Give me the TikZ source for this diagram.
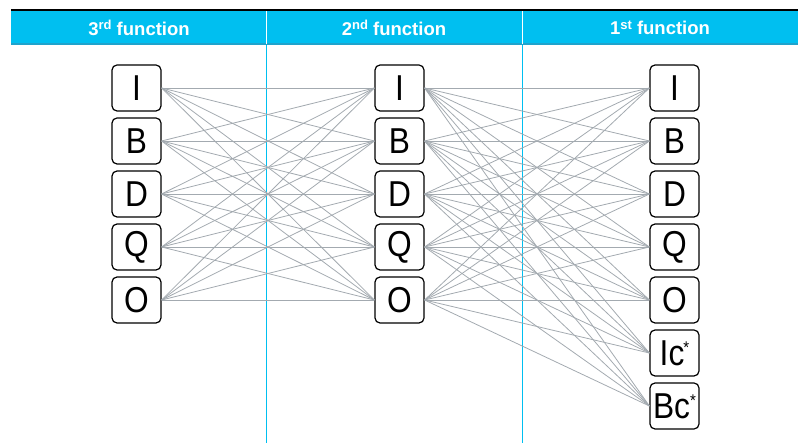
\documentclass[tikz,border=0pt]{standalone}
\usepackage{fontspec}
\setmainfont{Liberation Sans}
\usepackage{graphicx}
\definecolor{hdrblue}{HTML}{00BFF0}
\definecolor{hdrline}{HTML}{1FA3CC}
\definecolor{linkgray}{HTML}{A3AAB0}
\newcommand{\hsup}[1]{\raisebox{5.5pt}{\fontsize{13}{13}\selectfont #1}}
\newcommand{\nodetxt}[1]{\scalebox{0.88}[1]{#1}}
\newcommand{\astk}{\raisebox{12pt}{\fontsize{17}{17}\selectfont *}}
\begin{document}
\begin{tikzpicture}[x=1pt,y=-1pt,
  fbox/.style={draw=black,line width=1.2pt,rounded corners=5pt,fill=white,
    minimum width=49pt,minimum height=46pt,inner sep=0pt,
    font=\fontsize{36}{36}\selectfont},
  link/.style={draw=linkgray,line width=0.8pt},
  hdr/.style={text=white,font=\fontsize{18.5}{19}\selectfont\bfseries},
  sep/.style={draw=hdrblue,line width=1.2pt}]
\useasboundingbox (0,0) rectangle (798,443);
% header
\fill[black] (11,9) rectangle (798,11.5);
\fill[hdrblue] (11,11.5) rectangle (798,44);
\fill[hdrline] (11,43.5) rectangle (798,45);
\draw[white,line width=1.3pt] (266.5,11.5) -- (266.5,44);
\draw[white,line width=1.3pt] (522.5,11.5) -- (522.5,44);
\draw[sep] (266.5,45) -- (266.5,443);
\draw[sep] (522.5,45) -- (522.5,443);
\node[hdr] (h3) at (139,28) {3\hsup{rd} function};
\node[hdr] (h2) at (394,28) {2\hsup{nd} function};
\node[hdr] (h1) at (660,28) {1\hsup{st} function};
% columns
\foreach \n [count=\i from 0] in {I,B,D,Q,O}{
  \node[fbox] (a\n) at (136.5,{88+53*\i}) {\nodetxt{\n}};
  \node[fbox] (b\n) at (399.5,{88+53*\i}) {\nodetxt{\n}};
}
\foreach \n/\t [count=\i from 0] in {I/I,B/B,D/D,Q/Q,O/O,Ic/{Ic\kern-1pt\astk},Bc/{Bc\kern0pt\astk}}{
  \node[fbox] (c\n) at (674.5,{88+53*\i}) {\nodetxt{\t}};
}
\foreach \s in {I,B,D,Q,O}{
  \foreach \d in {I,B,D,Q,O}{
    \draw[link] (a\s.east) -- (b\d.west);
  }
  \foreach \d in {I,B,D,Q,O,Ic,Bc}{
    \draw[link] (b\s.east) -- (c\d.west);
  }
}
\end{tikzpicture}
\end{document}
